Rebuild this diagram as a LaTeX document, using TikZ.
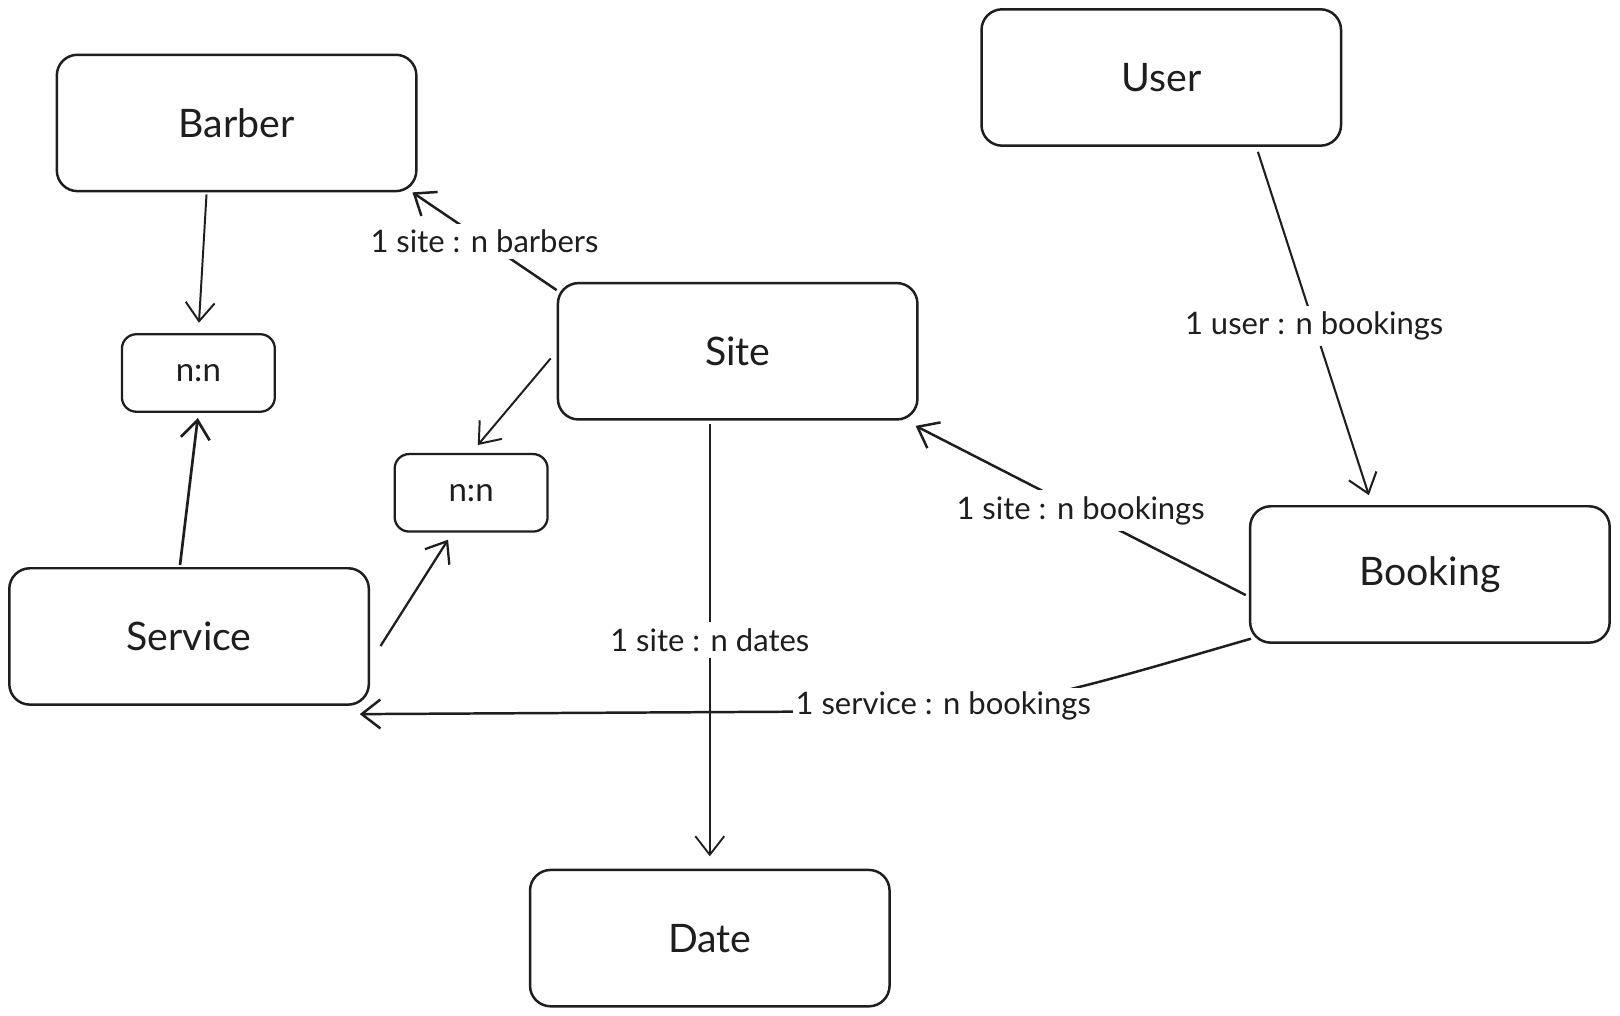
\documentclass[tikz,border=0pt]{standalone}
\usepackage{fontspec}
\setmainfont{Lato}
\usetikzlibrary{arrows.meta}
\definecolor{ink}{HTML}{1E1E1E}

\begin{document}
\begin{tikzpicture}[x=1pt,y=-1pt,
  entity/.style={draw=ink, line width=2.4pt, rounded corners=20pt,
    minimum width=348pt, minimum height=132pt, inner sep=0pt,
    text=ink, font=\fontsize{38}{44}\selectfont},
  joinbox/.style={draw=ink, line width=2.2pt, rounded corners=14pt,
    minimum width=148pt, minimum height=75pt, inner sep=0pt,
    text=ink, font=\fontsize{32}{38}\selectfont},
  rel/.style={draw=ink, line width=2pt,
    -{Straight Barb[length=18pt,width=28pt]}},
  tag/.style={fill=white, text=ink, inner sep=6pt,
    font=\fontsize{30}{36}\selectfont}
]
% canvas
\fill[white] (0,0) rectangle (1568,983);
\useasboundingbox (0,0) rectangle (1568,983);

% entities
\node[entity] (barber)  at (229,119)  {Barber};
\node[entity] (site)    at (714,340)  {Site};
\node[entity] (service) at (183,616)  {Service};
\node[entity] (user)    at (1124,75)  {User};
\node[entity] (booking) at (1384,556) {Booking};
\node[entity] (date)    at (687,908)  {Date};

% join tables
\node[joinbox] (nnA) at (192,361) {n:n};
\node[joinbox] (nnB) at (456,477) {n:n};

% barber / service join
\draw[rel, line width=1.9pt, shorten <=2pt, shorten >=10pt]
  ([xshift=-29pt]barber.south) -- (nnA.north);
\draw[rel, line width=2.6pt, shorten <=2pt, shorten >=5pt]
  ([xshift=-9pt]service.north) -- (nnA.south);

% site / service join
\draw[rel, line width=1.9pt, shorten <=9pt, shorten >=10pt]
  (site.west) -- (nnB.north);
\draw[rel, line width=2.2pt, shorten <=2pt, shorten >=8pt]
  ([xshift=9pt,yshift=-11pt]service.east) -- ([xshift=-18pt]nnB.south);

% site relations
\draw[rel, line width=2.4pt]
  ([yshift=-8pt]site.north west) -- ([xshift=-5pt]barber.south east)
  node[tag, midway] {1 site : n barbers};
\draw[rel, line width=1.8pt, shorten <=3pt, shorten >=12pt]
  ([xshift=-27pt]site.south) -- (date.north)
  node[tag, pos=0.49] {1 site : n dates};

% booking relations
\draw[rel, line width=2.4pt]
  ([xshift=-3pt,yshift=-20pt]booking.west) -- ([xshift=-3pt,yshift=-5pt]site.south east)
  node[tag, midway] {1 site : n bookings};
\draw[rel, line width=2pt, shorten <=5pt, shorten >=10pt]
  ([xshift=92pt]user.south) -- ([xshift=-56pt]booking.north)
  node[tag, midway] {1 user : n bookings};
\draw[rel, line width=2.4pt]
  ([xshift=2pt,yshift=5pt]booking.south west)
  .. controls (1100,650) and (1000,682) .. (913,688)
  node[tag, yshift=5pt, inner sep=3pt] {1 service : n bookings}
  -- ([xshift=-10pt,yshift=-8pt]service.south east);
\end{tikzpicture}
\end{document}
